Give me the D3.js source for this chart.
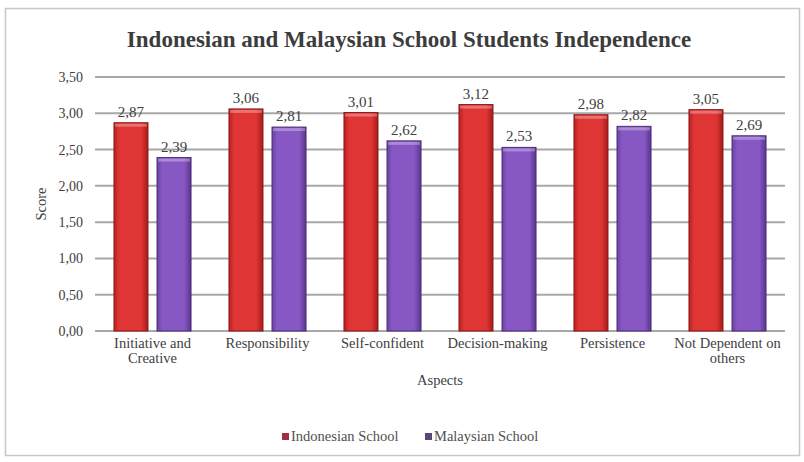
<!DOCTYPE html>
<html><head><meta charset="utf-8">
<script src="https://cdn.jsdelivr.net/npm/d3@7"></script>
<style>body{margin:0;background:#fff}svg{display:block}</style>
</head><body>
<script>
const categories = [["Initiative and","Creative"],["Responsibility"],["Self-confident"],["Decision-making"],["Persistence"],["Not Dependent on","others"]];
const seriesNames = ["Indonesian School","Malaysian School"];
const indonesian = [2.87,3.06,3.01,3.12,2.98,3.05];
const malaysian = [2.39,2.81,2.62,2.53,2.82,2.69];
const yTicks = [0,0.5,1,1.5,2,2.5,3,3.5];

const W=804,H=462;
const svg=d3.select("body").append("svg").attr("width",W).attr("height",H);
const font="Liberation Serif";
svg.append("rect").attr("x",5.5).attr("y",8.5).attr("width",794).attr("height",447).attr("fill","#fff").attr("stroke","#c8c8c8").attr("stroke-width",1.5);

const defs=svg.append("defs");
function grad(id,edge,mid,edge2){
  const g=defs.append("linearGradient").attr("id",id).attr("x1","0").attr("x2","1").attr("y1","0").attr("y2","0");
  g.append("stop").attr("offset","0%").attr("stop-color",edge);
  g.append("stop").attr("offset","15%").attr("stop-color",mid);
  g.append("stop").attr("offset","80%").attr("stop-color",mid);
  g.append("stop").attr("offset","100%").attr("stop-color",edge2);
}
grad("gRed","#b82020","#e03535","#a81a1a");
grad("gPur","#6a42a0","#8758c4","#5a3590");
const fills=["url(#gRed)","url(#gPur)"];
const strokes=["#8a1818","#4a2c78"];

const m={l:95,r:785,t:77,b:331};
const x0=d3.scaleBand().domain(d3.range(categories.length)).range([m.l,m.r]).paddingInner(0.33).paddingOuter(0.165);
const x1=d3.scaleBand().domain([0,1]).range([0,x0.bandwidth()]).paddingInner(0.21);
const y=d3.scaleLinear().domain([0,3.5]).range([m.b,m.t]);

svg.append("text").attr("x",409).attr("y",47).attr("text-anchor","middle").attr("font-family",font).attr("font-weight","bold").attr("font-size",23).attr("fill","#3c3c3c").text("Indonesian and Malaysian School Students Independence");

// grid
svg.append("g").selectAll("line").data(yTicks).join("line")
  .attr("x1",m.l).attr("x2",m.r).attr("y1",d=>y(d)).attr("y2",d=>y(d))
  .attr("stroke","#a8a8a8").attr("stroke-width",2);

const yAxis=svg.append("g").attr("transform",`translate(${m.l-4},0)`)
  .call(d3.axisLeft(y).tickValues(yTicks).tickSize(0).tickPadding(8).tickFormat(d=>d3.format(".2f")(d).replace(".",",")));
yAxis.select(".domain").remove();
yAxis.selectAll("text").attr("font-family",font).attr("font-size",14).attr("fill","#404040");

const data=[indonesian,malaysian];
categories.forEach((c,i)=>{
  const g=svg.append("g").attr("transform",`translate(${x0(i)},0)`);
  [0,1].forEach(s=>{
    const v=data[s][i];
    g.append("rect").attr("x",x1(s)).attr("y",y(v)).attr("width",x1.bandwidth()).attr("height",y(0)-y(v))
      .attr("fill",fills[s]).attr("stroke",strokes[s]).attr("stroke-width",1);
    g.append("rect").attr("x",x1(s)+1).attr("y",y(v)+1).attr("width",x1.bandwidth()-2).attr("height",3)
      .attr("fill","#fff").attr("opacity",0.3);
    g.append("text").attr("x",x1(s)+x1.bandwidth()/2).attr("y",y(v)-6).attr("text-anchor","middle")
      .attr("font-family",font).attr("font-size",15).attr("fill","#404040").text(d3.format(".2f")(v).replace(".",","));
  });
  const t=svg.append("text").attr("text-anchor","middle").attr("font-family",font).attr("font-size",14.5).attr("fill","#404040");
  c.forEach((line,k)=>t.append("tspan").attr("x",x0(i)+x0.bandwidth()/2).attr("y",348+k*15).text(line));
});

svg.append("text").attr("x",(m.l+m.r)/2).attr("y",385).attr("text-anchor","middle").attr("font-family",font).attr("font-size",14.5).attr("fill","#404040").text("Aspects");
svg.append("text").attr("transform","translate(46,204) rotate(-90)").attr("text-anchor","middle").attr("font-family",font).attr("font-size",14.5).attr("fill","#404040").text("Score");

const legColors=["#a03040","#584878"];
const legX=[282,425];
seriesNames.forEach((n,i)=>{
  svg.append("rect").attr("x",legX[i]).attr("y",433).attr("width",7).attr("height",7).attr("fill",legColors[i]);
  svg.append("text").attr("x",legX[i]+9).attr("y",441).attr("font-family",font).attr("font-size",14.5).attr("fill","#505050").text(n);
});
</script>
</body></html>
